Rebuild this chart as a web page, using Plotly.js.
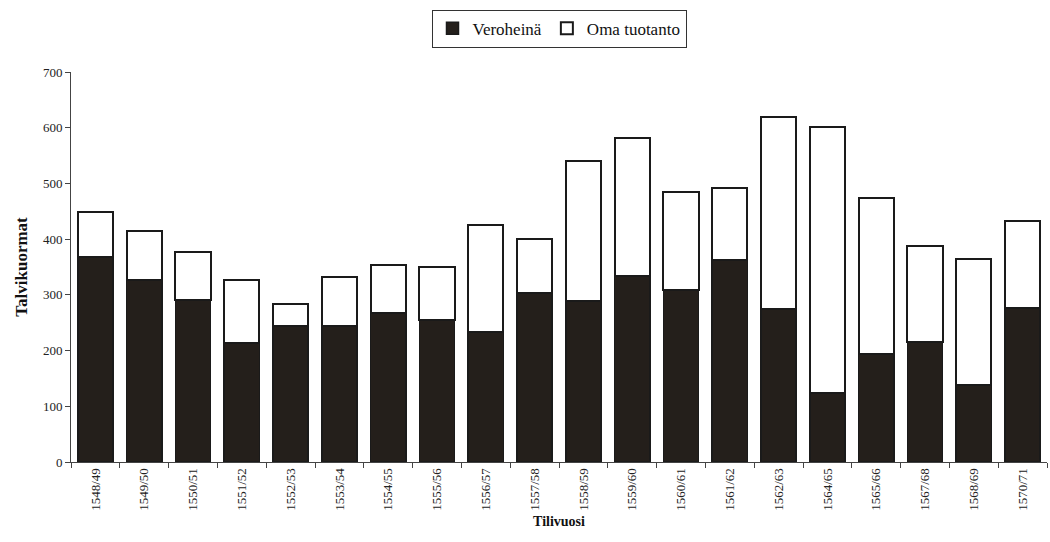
<!DOCTYPE html>
<html><head><meta charset="utf-8">
<script src="https://cdn.plot.ly/plotly-3.0.1.min.js"></script>
<style>body{margin:0;background:#fff}#c{width:1050px;height:542px}</style>
</head><body><div id="c"></div>
<script>
const years = ["1548/49","1549/50","1550/51","1551/52","1552/53","1553/54","1554/55","1555/56","1556/57","1557/58","1558/59","1559/60","1560/61","1561/62","1562/63","1564/65","1565/66","1567/68","1568/69","1570/71"];
const veroheina = [368,327,290,214,244,245,267,254,233,304,289,333,308,362,274,124,193,215,139,277];
const totals = [449,415,377,327,284,332,353,350,426,400,541,581,484,491,619,601,474,388,365,433];
const omaTuotanto = totals.map((t,i)=>t-veroheina[i]);

const serif = "Liberation Serif, Times New Roman, serif";
const data = [
  {type:'bar', name:'Veroheinä', x:years, y:veroheina,
   marker:{color:'#241f1b', line:{color:'#1a1a1a', width:1.5}}},
  {type:'bar', name:'Oma tuotanto', x:years, y:omaTuotanto,
   marker:{color:'#ffffff', line:{color:'#1a1a1a', width:2}}}
];
const layout = {
  width:1050, height:542, barmode:'stack', bargap:0.28,
  margin:{l:71, r:3, t:72, b:80},
  paper_bgcolor:'#fff', plot_bgcolor:'#fff',
  font:{family:serif, size:13, color:'#222'},
  showlegend:true,
  legend:{orientation:'h', x:0.5, xanchor:'center', y:1.16, yanchor:'top',
    bordercolor:'#333', borderwidth:1, font:{family:serif, size:17, color:'#111'},
    itemwidth:30, traceorder:'normal', tracegroupgap:0},
  xaxis:{type:'category', showline:true, linecolor:'#444', linewidth:1,
    ticks:'outside', tickson:'boundaries', ticklen:5, tickcolor:'#444',
    tickangle:-90, tickfont:{family:serif, size:13, color:'#222'},
    title:{text:'<b>Tilivuosi</b>', font:{family:serif, size:14, color:'#111'}, standoff:6},
    showgrid:false, zeroline:false},
  yaxis:{range:[0,700], dtick:100, showline:true, linecolor:'#444', linewidth:1,
    ticks:'outside', ticklen:5, tickcolor:'#444', showgrid:false, zeroline:false,
    tickfont:{family:serif, size:13, color:'#222'},
    title:{text:'<b>Talvikuormat</b>', font:{family:serif, size:17, color:'#111'}, standoff:10}}
};
Plotly.newPlot('c', data, layout, {displayModeBar:false, staticPlot:true});
</script></body></html>
